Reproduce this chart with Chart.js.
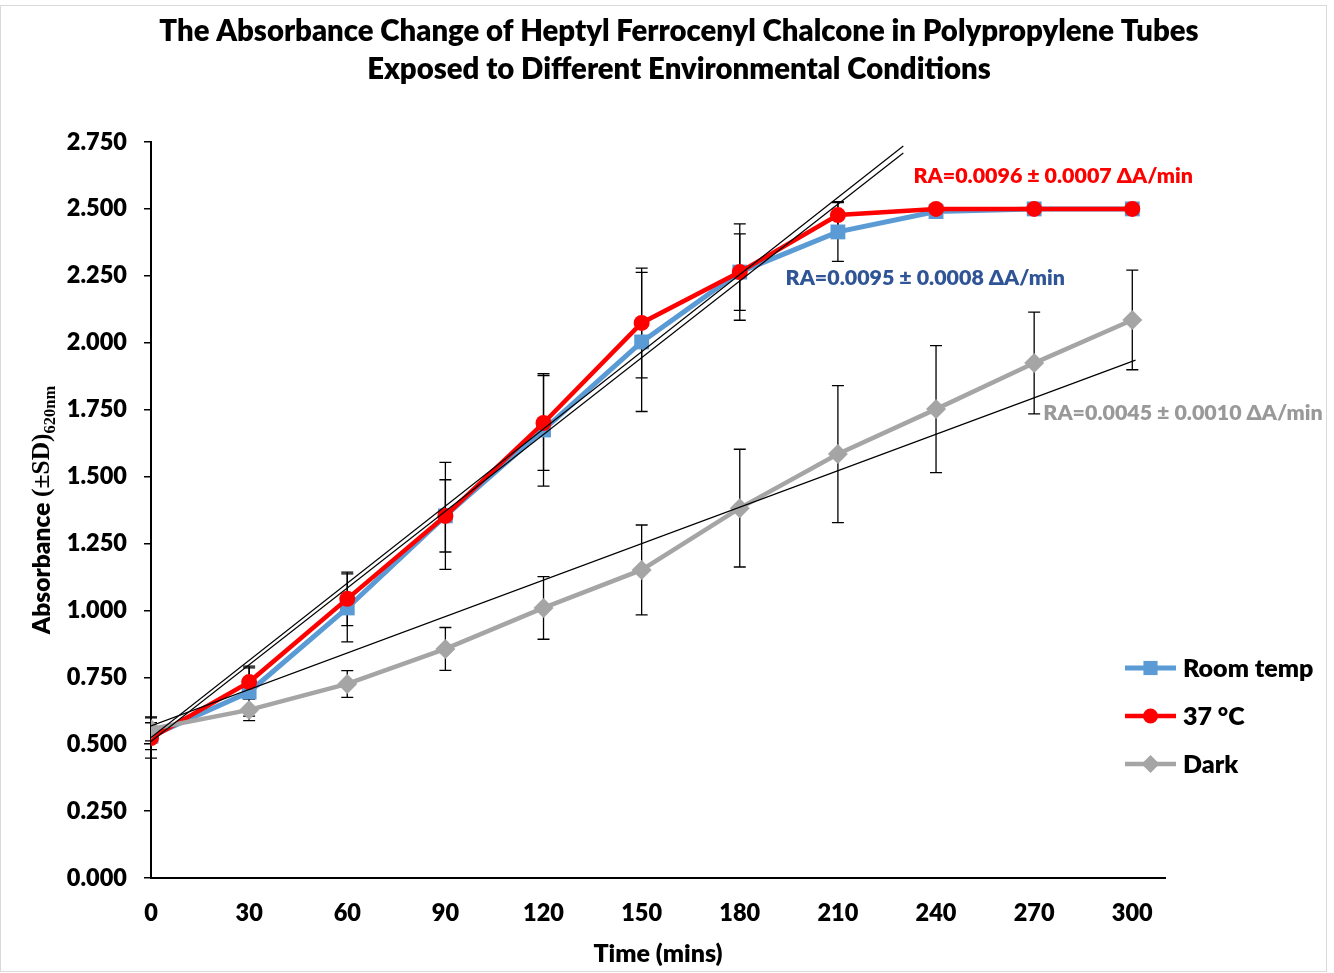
<!DOCTYPE html>
<html>
<head>
<meta charset="utf-8">
<script src="https://cdn.jsdelivr.net/npm/chart.js@4.4.1/dist/chart.umd.min.js"></script>
<style>
  html, body { margin: 0; padding: 0; background: #fff; }
  canvas { display: block; }
</style>
</head>
<body>
<canvas id="c" width="1334" height="973"></canvas>
<script>
// Sampling times (minutes)
const times = [0, 30, 60, 90, 120, 150, 180, 210, 240, 270, 300];

// Mean absorbance at 620 nm
const roomTemp = [0.530, 0.695, 1.009, 1.353, 1.674, 2.003, 2.264, 2.414, 2.490, 2.500, 2.500];
const temp37   = [0.523, 0.732, 1.043, 1.353, 1.700, 2.074, 2.264, 2.477, 2.500, 2.500, 2.500];
const dark     = [0.557, 0.628, 0.725, 0.856, 1.009, 1.151, 1.382, 1.584, 1.752, 1.924, 2.085];

// Standard deviations
const sdRoomTemp = [0.050, 0.090, 0.127, 0.200, 0.210, 0.260, 0.180, 0.110, 0, 0, 0];
const sdTemp37   = [0.075, 0.060, 0.100, 0.135, 0.177, 0.205, 0.143, 0.050, 0, 0, 0];
const sdDark     = [0.045, 0.040, 0.050, 0.080, 0.117, 0.168, 0.220, 0.256, 0.237, 0.190, 0.186];

// Linear fits (end points, minutes / absorbance)
const fitX37   = [0, 230];
const fit37    = [0.525, 2.735];
const fitXRoom = [0, 230];
const fitRoom  = [0.510, 2.709];
const fitXDark = [0, 301];
const fitDark  = [0.568, 1.935];

// Axis ticks
const xTicks = [0, 30, 60, 90, 120, 150, 180, 210, 240, 270, 300];
const yTicks = [0, 0.25, 0.5, 0.75, 1, 1.25, 1.5, 1.75, 2, 2.25, 2.5, 2.75];

// Text
const seriesNames = ['Room temp', '37 °C', 'Dark'];
const rateLabels = ['RA=0.0096 ± 0.0007 ΔA/min', 'RA=0.0095 ± 0.0008 ΔA/min', 'RA=0.0045 ± 0.0010 ΔA/min'];
const titleLines = ['The Absorbance Change of Heptyl Ferrocenyl Chalcone in Polypropylene Tubes',
                    'Exposed to Different Environmental Conditions'];
const xTitle = 'Time (mins)';

const SANS = 'Lato, "Open Sans", sans-serif';
const SERIF = '"Liberation Serif", "DejaVu Serif", serif';
const W = '800';

const pts = (xs, ys) => xs.map((x, i) => ({ x, y: ys[i] }));

const styles = {
  room: { color: '#5B9BD5', width: 5, point: 'rect', radius: 10.5 },
  t37:  { color: '#FF0000', width: 4.5, point: 'circle', radius: 8 },
  dark: { color: '#A5A5A5', width: 4.5, point: 'rectRot', radius: 10 }
};

function seriesDataset(label, values, st) {
  return {
    label,
    data: pts(times, values),
    borderColor: st.color,
    backgroundColor: st.color,
    borderWidth: st.width,
    pointStyle: st.point,
    pointRadius: st.radius,
    pointBorderWidth: 0,
    pointBackgroundColor: st.color,
    tension: 0
  };
}

function fitDataset(xs, ys) {
  return {
    label: '',
    data: pts(xs, ys),
    borderColor: '#000',
    borderWidth: 1.2,
    pointRadius: 0,
    tension: 0
  };
}

// Error bars drawn under the markers
const errorBarPlugin = {
  id: 'errorBars',
  beforeDatasetsDraw(chart) {
    const { ctx, scales: { x, y } } = chart;
    const groups = [[roomTemp, sdRoomTemp], [temp37, sdTemp37], [dark, sdDark]];
    ctx.save();
    ctx.strokeStyle = '#000';
    ctx.lineWidth = 1.3;
    const cap = 6;
    groups.forEach(([vals, sds]) => {
      vals.forEach((v, i) => {
        if (!sds[i]) return;
        const px = x.getPixelForValue(times[i]);
        const top = y.getPixelForValue(v + sds[i]);
        const bot = y.getPixelForValue(v - sds[i]);
        ctx.beginPath();
        ctx.moveTo(px, top); ctx.lineTo(px, bot);
        ctx.moveTo(px - cap, top); ctx.lineTo(px + cap, top);
        ctx.moveTo(px - cap, bot); ctx.lineTo(px + cap, bot);
        ctx.stroke();
      });
    });
    ctx.restore();
  }
};

function drawMarker(ctx, st, cx, cy) {
  ctx.fillStyle = st.color;
  ctx.beginPath();
  if (st.point === 'rect') {
    const h = st.radius * Math.SQRT1_2;
    ctx.rect(cx - h, cy - h, 2 * h, 2 * h);
  } else if (st.point === 'circle') {
    ctx.arc(cx, cy, st.radius, 0, Math.PI * 2);
  } else {
    const r = st.radius;
    ctx.moveTo(cx, cy - r); ctx.lineTo(cx + r, cy); ctx.lineTo(cx, cy + r); ctx.lineTo(cx - r, cy);
    ctx.closePath();
  }
  ctx.fill();
}

// Frame, title, y-axis label, legend and rate annotations
const decorPlugin = {
  id: 'decor',
  beforeDraw(chart) {
    const { ctx, width, height } = chart;
    ctx.save();
    ctx.fillStyle = '#fff';
    ctx.fillRect(0, 0, width, height);
    ctx.restore();
  },
  afterDraw(chart) {
    const { ctx, chartArea, scales: { x, y } } = chart;
    ctx.save();

    // outer frame
    ctx.strokeStyle = '#D9D9D9';
    ctx.lineWidth = 1;
    ctx.strokeRect(0.5, 5.5, 1326, 966);

    // title
    ctx.fillStyle = '#000';
    ctx.font = W + ' 29.3px ' + SANS;
    ctx.textAlign = 'center';
    ctx.textBaseline = 'middle';
    ctx.fillText(titleLines[0], 679, 32);
    ctx.fillText(titleLines[1], 679, 70);

    // y-axis title with subscript
    const cy = (chartArea.top + chartArea.bottom) / 2;
    ctx.save();
    ctx.translate(42, cy);
    ctx.rotate(-Math.PI / 2);
    ctx.textAlign = 'left';
    ctx.textBaseline = 'middle';
    const parts = [
      { t: 'Absorbance ', f: W + ' 24.5px ' + SANS, dy: 0 },
      { t: '(±SD)', f: 'bold 25.5px ' + SERIF, dy: 0 },
      { t: '620nm', f: 'bold 16.5px ' + SERIF, dy: 9 }
    ];
    let total = 0;
    parts.forEach(p => { ctx.font = p.f; p.w = ctx.measureText(p.t).width; total += p.w; });
    let cx = -total / 2;
    parts.forEach(p => { ctx.font = p.f; ctx.fillText(p.t, cx, p.dy); cx += p.w; });
    ctx.restore();

    // legend
    const legend = [styles.room, styles.t37, styles.dark];
    legend.forEach((st, i) => {
      const ly = 668 + i * 48;
      ctx.strokeStyle = st.color;
      ctx.lineWidth = st.width;
      ctx.beginPath();
      ctx.moveTo(1125, ly); ctx.lineTo(1176, ly);
      ctx.stroke();
      const mst = Object.assign({}, st, { radius: st.point === 'rect' ? 10 : st.point === 'circle' ? 7.5 : 9 });
      drawMarker(ctx, mst, 1150.5, ly);
      ctx.fillStyle = '#000';
      ctx.font = W + ' 25px ' + SANS;
      ctx.textAlign = 'left';
      ctx.textBaseline = 'middle';
      ctx.fillText(seriesNames[i], 1183, ly + 1);
    });

    // rate annotations anchored in data space
    const notes = [
      { text: rateLabels[0], color: '#FF0000', at: [233.1, 2.623] },
      { text: rateLabels[1], color: '#2F5597', at: [194.0, 2.242] },
      { text: rateLabels[2], color: '#999999', at: [272.8, 1.737] }
    ];
    ctx.font = W + ' 21.4px ' + SANS;
    ctx.textAlign = 'left';
    ctx.textBaseline = 'middle';
    notes.forEach(n => {
      ctx.fillStyle = n.color;
      ctx.fillText(n.text, x.getPixelForValue(n.at[0]), y.getPixelForValue(n.at[1]));
    });

    ctx.restore();
  }
};

new Chart(document.getElementById('c'), {
  type: 'line',
  data: {
    datasets: [
      fitDataset(fitX37, fit37),
      fitDataset(fitXRoom, fitRoom),
      fitDataset(fitXDark, fitDark),
      seriesDataset(seriesNames[2], dark, styles.dark),
      seriesDataset(seriesNames[1], temp37, styles.t37),
      seriesDataset(seriesNames[0], roomTemp, styles.room)
    ]
  },
  options: {
    responsive: false,
    animation: false,
    devicePixelRatio: 1,
    layout: { padding: { left: 0, right: 169, top: 142, bottom: 0 } },
    plugins: {
      legend: { display: false },
      title: { display: false },
      tooltip: { enabled: false }
    },
    scales: {
      x: {
        type: 'linear',
        position: 'bottom',
        min: 0,
        max: 310,
        afterBuildTicks: s => { s.ticks = xTicks.map(v => ({ value: v })); },
        afterFit: s => { s.height = 95; },
        ticks: { color: '#000', font: { family: SANS, size: 23.5, weight: W }, padding: 21, maxRotation: 0, callback: v => String(v) },
        grid: { display: false, drawTicks: false },
        border: { display: true, color: '#000', width: 2 },
        title: { display: true, text: xTitle, color: '#000', font: { family: SANS, size: 25, weight: W }, padding: { top: 0, bottom: 4 } }
      },
      y: {
        min: 0,
        max: 2.75,
        afterBuildTicks: s => { s.ticks = yTicks.map(v => ({ value: v })); },
        afterFit: s => { s.width = 151; },
        ticks: { color: '#000', font: { family: SANS, size: 23.5, weight: W }, padding: 17, callback: v => Number(v).toFixed(3) },
        grid: { drawOnChartArea: false, drawTicks: true, tickLength: 7, color: '#000', lineWidth: 1.5 },
        border: { display: true, color: '#000', width: 2 }
      }
    }
  },
  plugins: [errorBarPlugin, decorPlugin]
});
</script>
</body>
</html>
